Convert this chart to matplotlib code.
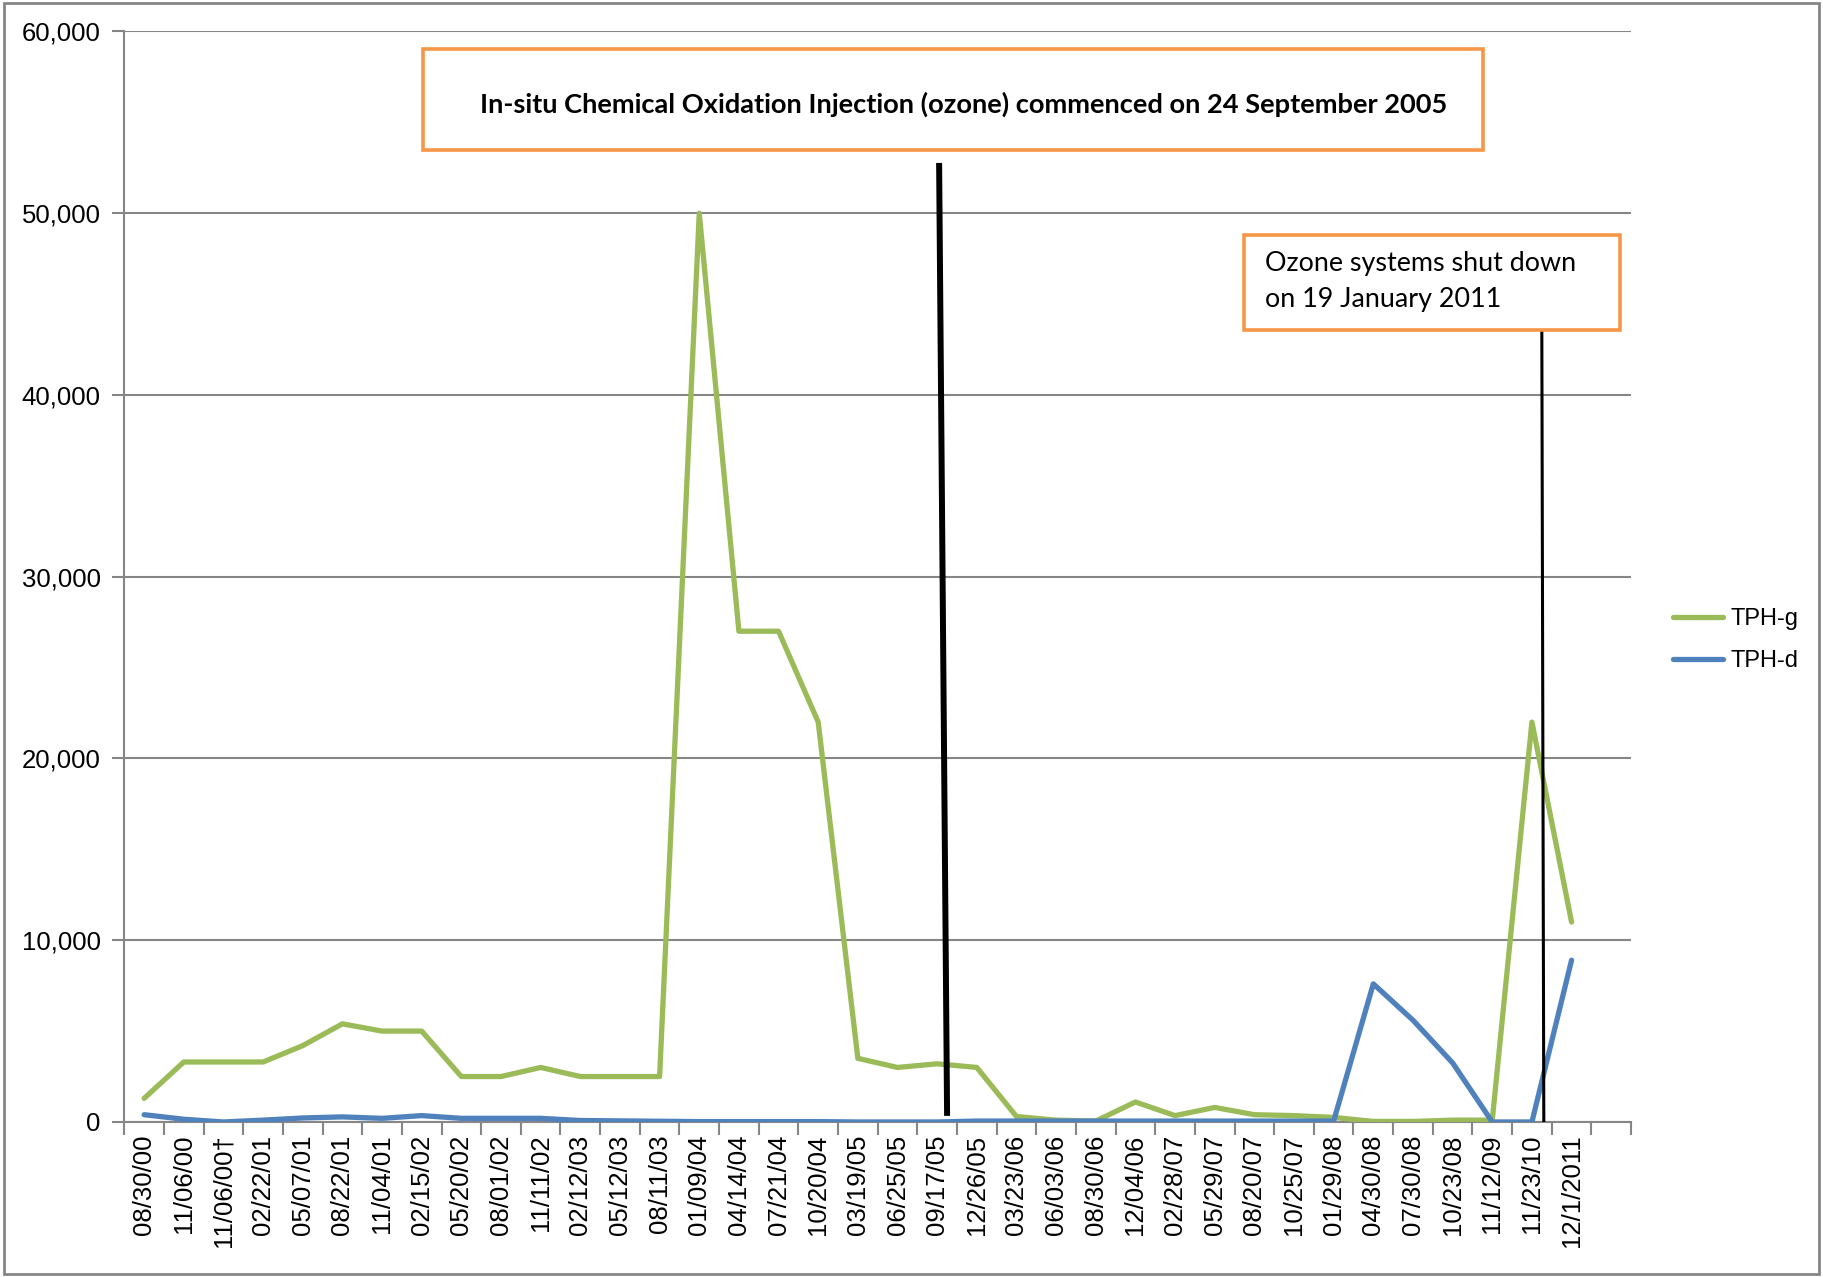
import matplotlib
matplotlib.use('Agg')
import matplotlib.pyplot as plt
from matplotlib.patches import Rectangle
import numpy as np

# Fechas de muestreo (la última posición queda vacía en el eje)
dates = ['08/30/00', '11/06/00', '11/06/00\u2020', '02/22/01', '05/07/01', '08/22/01',
         '11/04/01', '02/15/02', '05/20/02', '08/01/02', '11/11/02', '02/12/03',
         '05/12/03', '08/11/03', '01/09/04', '04/14/04', '07/21/04', '10/20/04',
         '03/19/05', '06/25/05', '09/17/05', '12/26/05', '03/23/06', '06/03/06',
         '08/30/06', '12/04/06', '02/28/07', '05/29/07', '08/20/07', '10/25/07',
         '01/29/08', '04/30/08', '07/30/08', '10/23/08', '11/12/09', '11/23/10',
         '12/1/2011', '']

tph_g = [1300, 3300, 3300, 3300, 4200, 5400, 5000, 5000, 2500, 2500, 3000, 2500,
         2500, 2500, 50000, 27000, 27000, 22000, 3500, 3000, 3200, 3000, 300, 100,
         50, 1100, 350, 800, 400, 350, 250, 30, 30, 100, 100, 22000, 11000]

tph_d = [400, 150, 0, 100, 220, 280, 200, 350, 200, 200, 200, 80,
         60, 40, 20, 20, 20, 20, 0, 0, 0, 50, 50, 50,
         50, 50, 50, 50, 50, 50, 50, 7600, 5600, 3250, 0, 0, 8900]

# Líneas verticales de eventos: (x arriba, x abajo, y arriba, y abajo) en unidades de datos
ozone_start = (20.05, 20.25, 52600, 500)
ozone_stop = (35.25, 35.3, 43500, 0)

plt.rcParams['font.family'] = ['Liberation Sans', 'DejaVu Sans']

fig = plt.figure(figsize=(18.23, 12.77), dpi=100)
ax = fig.add_axes([0.0682, 0.1214, 0.8265, 0.854])

x = np.arange(len(tph_g))
ax.plot(x, tph_g, color='#9BBB59', lw=3.8, label='TPH-g', solid_capstyle='round', zorder=3)
ax.plot(np.arange(len(tph_d)), tph_d, color='#4F81BD', lw=3.8, label='TPH-d',
        solid_capstyle='round', zorder=3)

ax.plot(ozone_start[:2], ozone_start[2:], color='black', lw=4.3, zorder=4)
ax.plot(ozone_stop[:2], ozone_stop[2:], color='black', lw=2.2, zorder=4)

ax.set_xlim(-0.5, len(dates) - 0.5)
ax.set_ylim(0, 60000)
ax.set_yticks(np.arange(0, 60001, 10000))
ax.set_yticklabels([f'{v:,}' for v in range(0, 60001, 10000)], fontsize=18.5)
ax.set_xticks(np.arange(len(dates)))
ax.set_xticklabels(dates, rotation=90, fontsize=18.5, va='top')
ax.set_xticks(np.arange(len(dates) + 1) - 0.5, minor=True)
ax.tick_params(axis='x', which='major', length=0, pad=9)
ax.tick_params(axis='x', which='minor', length=9, color='#868686', width=1.5)
ax.tick_params(axis='y', length=9, color='#868686', width=1.5, pad=8)

ax.grid(axis='y', color='#868686', lw=1.5)
ax.set_axisbelow(True)
for s in ['top', 'right']:
    ax.spines[s].set_visible(False)
for s in ['left', 'bottom']:
    ax.spines[s].set_color('#868686')
    ax.spines[s].set_linewidth(1.5)

leg = ax.legend(loc='center left', bbox_to_anchor=(1.014, 0.442), frameon=False,
                fontsize=17, handlelength=2.1, handletextpad=0.3, labelspacing=0.85)

# Cuadros de texto
W, H = 1823, 1277
def caja(x0, y0, x1, y1):
    fig.add_artist(Rectangle((x0 / W, 1 - y1 / H), (x1 - x0) / W, (y1 - y0) / H,
                             transform=fig.transFigure, facecolor='white',
                             edgecolor='#F79646', lw=2.6, zorder=5))

caja(423, 49, 1483, 150)
fig.text(964 / W, 1 - 104 / H,
         'In-situ Chemical Oxidation Injection (ozone) commenced on 24 September 2005',
         ha='center', va='center', fontsize=19.6, fontweight='bold', family='Lato', zorder=6)

caja(1244, 235, 1620, 330)
fig.text(1265 / W, 1 - 282 / H, 'Ozone systems shut down\non 19 January 2011',
         ha='left', va='center', fontsize=19.4, family='Lato', linespacing=1.55, zorder=6)

# Borde de la figura
fig.add_artist(Rectangle((0.002, 0.002), 0.996, 0.996, transform=fig.transFigure,
                         fill=False, edgecolor='#868686', lw=2))

fig.savefig('out.png', dpi=100)
